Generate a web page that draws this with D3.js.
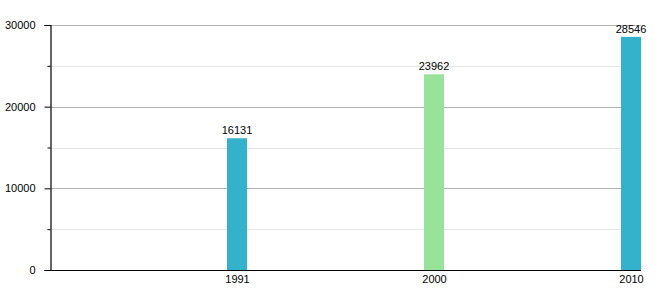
<!DOCTYPE html>
<html>
<head>
<meta charset="utf-8">
<script src="https://cdn.jsdelivr.net/npm/d3@7"></script>
<style>
  body { margin: 0; background: #fff; }
  text { font-family: "Liberation Sans", Arial, sans-serif; }
</style>
</head>
<body>
<script>
// data
var years = ["1991", "2000", "2010"];
var values = [16131, 23962, 28546];
var barColors = ["#35b2cb", "#98e39a", "#35b2cb"];
var majorTicks = [0, 10000, 20000, 30000];
var minorTicks = [5000, 15000, 25000];

function drawChart() {
  var w = 660;
  var h = 300;
  var left = 50, right = 641, top = 25, bottom = 270;
  var barWidth = 20;

  var xScale = d3.scalePoint()
                 .domain(years)
                 .range([237, 631]);
  var yScale = d3.scaleLinear()
                 .domain([0, 30000])
                 .range([bottom, top]);

  var svg = d3.select("body")
              .append("svg")
              .attr("width", w)
              .attr("height", h);

  // minor grid lines
  svg.append("g")
     .selectAll("line")
     .data(minorTicks)
     .enter()
     .append("line")
     .attr("x1", left)
     .attr("x2", right)
     .attr("y1", d => Math.round(yScale(d)) + 0.5)
     .attr("y2", d => Math.round(yScale(d)) + 0.5)
     .attr("stroke", "#e6e6e6");

  // major grid lines
  svg.append("g")
     .selectAll("line")
     .data(majorTicks.slice(1))
     .enter()
     .append("line")
     .attr("x1", left)
     .attr("x2", right)
     .attr("y1", d => Math.round(yScale(d)) + 0.5)
     .attr("y2", d => Math.round(yScale(d)) + 0.5)
     .attr("stroke", "#b3b3b3");

  // bars
  svg.selectAll("rect.bar")
     .data(values)
     .enter()
     .append("rect")
     .attr("class", "bar")
     .attr("x", (d, i) => xScale(years[i]) - barWidth / 2)
     .attr("y", d => yScale(d))
     .attr("width", barWidth)
     .attr("height", d => bottom - yScale(d))
     .attr("fill", (d, i) => barColors[i]);

  // value labels
  svg.selectAll("text.val")
     .data(values)
     .enter()
     .append("text")
     .attr("class", "val")
     .text(d => d)
     .attr("x", (d, i) => xScale(years[i]))
     .attr("y", d => yScale(d) - 4)
     .attr("text-anchor", "middle")
     .attr("font-size", "11px")
     .attr("fill", "#000");

  // y axis: major ticks with labels
  var yAxis = d3.axisLeft(yScale)
                .tickValues(majorTicks)
                .tickFormat(d3.format("d"))
                .tickSize(6)
                .tickPadding(9);
  var gy = svg.append("g")
              .attr("transform", "translate(" + (left + 0.5) + ",0)")
              .call(yAxis);
  gy.select(".domain").attr("stroke", "#000").attr("stroke-width", 1.2);
  gy.selectAll("text").attr("font-size", "11px").attr("font-family", null).attr("fill", "#000");

  // y axis minor ticks
  var yMinor = d3.axisLeft(yScale)
                 .tickValues(minorTicks)
                 .tickSize(3)
                 .tickFormat("");
  var gym = svg.append("g")
               .attr("transform", "translate(" + (left + 0.5) + ",0)")
               .call(yMinor);
  gym.select(".domain").remove();

  // x axis
  var xAxis = d3.axisBottom(xScale)
                .tickSize(0)
                .tickPadding(5);
  var gx = svg.append("g")
              .attr("transform", "translate(0," + (bottom + 0.5) + ")")
              .call(xAxis);
  gx.select(".domain").attr("d", "M" + left + ",0H" + right).attr("stroke", "#000").attr("stroke-width", 1.2);
  gx.selectAll("text").attr("font-size", "11px").attr("font-family", null).attr("fill", "#000");
}

window.onload = function() {
  drawChart();
};
</script>
</body>
</html>
